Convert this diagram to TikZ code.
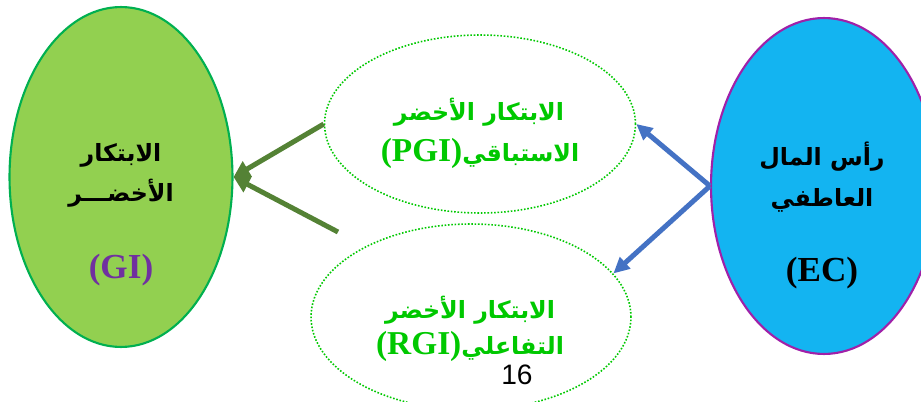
\documentclass[tikz,border=0pt]{standalone}
\usepackage{fontspec}
\setmainfont{Liberation Serif}
\newfontfamily\arabicfont[Script=Arabic]{DejaVu Sans}
\newfontfamily\pagefont{Liberation Sans}
\TeXXeTstate=1
\usetikzlibrary{shapes.geometric,arrows.meta}

\definecolor{leafgreen}{HTML}{92D050}
\definecolor{rimgreen}{HTML}{00B050}
\definecolor{skyblue}{HTML}{13B4F1}
\definecolor{rimpurple}{HTML}{A020A8}
\definecolor{brightgreen}{HTML}{00C800}
\definecolor{olivegreen}{HTML}{548235}
\definecolor{steelblue}{HTML}{4472C4}
\definecolor{labelpurple}{HTML}{7030A0}

\begin{document}
\begin{tikzpicture}[x=0.02cm,y=-0.02cm,
  blob/.style={ellipse,inner sep=0pt},
  artext/.style={font=\arabicfont\bfseries\fontsize{13.5}{16}\selectfont},
  lattext/.style={font=\bfseries\fontsize{20}{22}\selectfont},
  greenarrow/.style={line width=0.1cm,draw=olivegreen,-{Triangle[length=0.32cm,width=0.34cm]}},
  bluearrow/.style={line width=0.1cm,draw=steelblue,-{Triangle[length=0.32cm,width=0.3cm]}}]
\useasboundingbox (0,0) rectangle (921,402);
\clip (0,0) rectangle (921,402);

% main ellipses
\node[blob,fill=leafgreen,draw=rimgreen,line width=1.2pt,minimum width=4.46cm,minimum height=6.8cm] (gi) at (121,177) {};
\node[blob,fill=skyblue,draw=rimpurple,line width=1.2pt,minimum width=4.52cm,minimum height=6.72cm] (ec) at (824,186) {};

% dotted ellipses
\node[blob,draw=brightgreen,densely dotted,line width=0.9pt,minimum width=6.22cm,minimum height=3.56cm] (pgi) at (480,124) {};
\node[blob,draw=brightgreen,densely dotted,line width=0.9pt,minimum width=6.4cm,minimum height=3.72cm] (rgi) at (471,317) {};

% texts
\node[artext] (gia) at (121,155) {\beginR الابتكار\endR};
\node[artext] (gib) at (121,193) {\beginR الأخضـــر\endR};
\node[lattext,text=labelpurple] (gic) at (121,270) {(GI)};

\node[artext] (eca) at (822,157) {\beginR رأس المال\endR};
\node[artext] (ecb) at (822,200) {\beginR العاطفي\endR};
\node[lattext] (ecc) at (822,273) {(EC)};

\node[artext,text=brightgreen] (pgia) at (479,112) {\beginR الابتكار الأخضر\endR};
\node[artext,text=brightgreen] (pgib) at (480,153) {\beginR الاستباقي\beginL{\rmfamily\fontsize{19}{22}\selectfont(PGI)}\endL\endR};

\node[artext,text=brightgreen] (rgia) at (470,310) {\beginR الابتكار الأخضر\endR};
\node[artext,text=brightgreen] (rgib) at (470,346) {\beginR التفاعلي\beginL{\rmfamily\fontsize{19}{22}\selectfont(RGI)}\endL\endR};

\node[font=\pagefont\fontsize{16}{18}\selectfont] (pagenum) at (517,375) {16};

% arrows
\coordinate (rgitail) at (338,232);
\draw[greenarrow] (pgi.west) -- (gi.east);
\draw[greenarrow] (rgitail) -- (gi.east);
\draw[bluearrow] (ec.west) -- (pgi.east);
\draw[bluearrow] (ec.west) -- (rgi.17);

\end{tikzpicture}
\end{document}
